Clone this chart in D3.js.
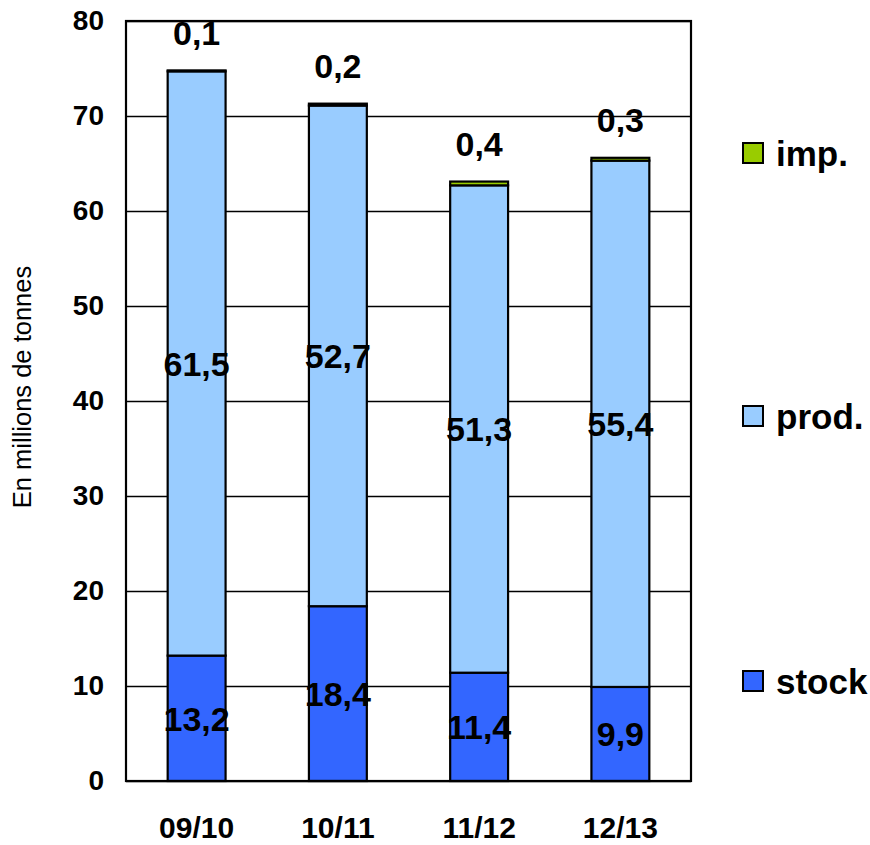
<!DOCTYPE html>
<html>
<head>
<meta charset="utf-8">
<script src="https://cdn.jsdelivr.net/npm/d3@7"></script>
<style>
  body { margin: 0; background: #fff; }
  text { font-family: "Liberation Sans", Arial, sans-serif; }
</style>
</head>
<body>
<svg id="chart" width="870" height="845"></svg>
<script>
const categories = ["09/10", "10/11", "11/12", "12/13"];
const stock = [13.2, 18.4, 11.4, 9.9];
const prod = [61.5, 52.7, 51.3, 55.4];
const imp = [0.1, 0.2, 0.4, 0.3];
const yTicks = [0, 10, 20, 30, 40, 50, 60, 70, 80];
const seriesNames = ["stock", "prod.", "imp."];
const seriesColors = ["#3366FF", "#99CCFF", "#99CC00"];
const yTitle = "En millions de tonnes";

const fmt = v => String(v).replace(".", ",");

const svg = d3.select("#chart");
const margin = { left: 126, right: 179, top: 21, bottom: 64 };
const W = 870, H = 845;
const x0 = margin.left, x1 = W - margin.right, y0 = H - margin.bottom, y1 = margin.top;

const x = d3.scaleBand().domain(categories).range([x0, x1]).paddingInner(0.59).paddingOuter(0.295);
const y = d3.scaleLinear().domain([0, 80]).range([y0, y1]);

// gridlines
const grid = d3.axisLeft(y).tickValues(yTicks).tickSize(-(x1 - x0)).tickFormat("");
svg.append("g").attr("transform", `translate(${x0},0)`).call(grid)
  .call(g => g.select(".domain").remove())
  .call(g => g.selectAll("line").attr("stroke", "#000").attr("stroke-width", 1.6));

// stacked data
const table = categories.map((c, i) => ({ cat: c, stock: stock[i], prod: prod[i], imp: imp[i] }));
const keys = ["stock", "prod", "imp"];
const stacked = d3.stack().keys(keys)(table);

const layers = svg.append("g").selectAll("g").data(stacked).join("g")
  .attr("fill", (d, i) => seriesColors[i]);
layers.selectAll("rect").data(d => d).join("rect")
  .attr("x", d => x(d.data.cat))
  .attr("width", x.bandwidth())
  .attr("y", d => y(d[1]))
  .attr("height", d => y(d[0]) - y(d[1]))
  .attr("stroke", "#000")
  .attr("stroke-width", 2.2);

// plot border
svg.append("rect").attr("x", x0).attr("y", y1).attr("width", x1 - x0).attr("height", y0 - y1)
  .attr("fill", "none").attr("stroke", "#000").attr("stroke-width", 2.2);

// y axis labels
const yAxis = d3.axisLeft(y).tickValues(yTicks).tickSize(0).tickPadding(22);
svg.append("g").attr("transform", `translate(${x0},0)`).call(yAxis)
  .call(g => g.select(".domain").remove())
  .call(g => g.selectAll("text").attr("font-size", 28).attr("font-weight", "bold")
    .attr("fill", "#000").attr("font-family", "Liberation Sans, Arial, sans-serif"));

// x axis labels
const xAxis = d3.axisBottom(x).tickSize(0).tickPadding(36);
svg.append("g").attr("transform", `translate(0,${y0})`).call(xAxis)
  .call(g => g.select(".domain").remove())
  .call(g => g.selectAll("text").attr("font-size", 30).attr("font-weight", "bold")
    .attr("fill", "#000").attr("font-family", "Liberation Sans, Arial, sans-serif"));

// y title
svg.append("text")
  .attr("transform", `translate(31,387) rotate(-90)`)
  .attr("text-anchor", "middle")
  .attr("font-size", 25.5)
  .attr("fill", "#000")
  .text(yTitle);

// data labels
const labels = svg.append("g").attr("font-weight", "bold").attr("font-size", 34).attr("fill", "#000")
  .attr("text-anchor", "middle");
stacked.forEach((layer, li) => {
  layer.forEach(d => {
    const cx = x(d.data.cat) + x.bandwidth() / 2;
    const val = d.data[keys[li]];
    let cy;
    if (keys[li] === "imp") cy = y(d[1]) - 38;
    else cy = y((d[0] + d[1]) / 2);
    labels.append("text").attr("x", cx).attr("y", cy).attr("dy", "0.36em").text(fmt(val));
  });
});

// legend
const legendY = [681, 416, 153];
const lg = svg.append("g");
seriesNames.forEach((n, i) => {
  lg.append("rect").attr("x", 743).attr("y", legendY[i] - 10).attr("width", 20).attr("height", 20)
    .attr("fill", seriesColors[i]).attr("stroke", "#000").attr("stroke-width", 2);
  lg.append("text").attr("x", 776).attr("y", legendY[i]).attr("dy", "0.36em")
    .attr("font-size", 35).attr("font-weight", "bold").attr("fill", "#000").text(n);
});
</script>
</body>
</html>
